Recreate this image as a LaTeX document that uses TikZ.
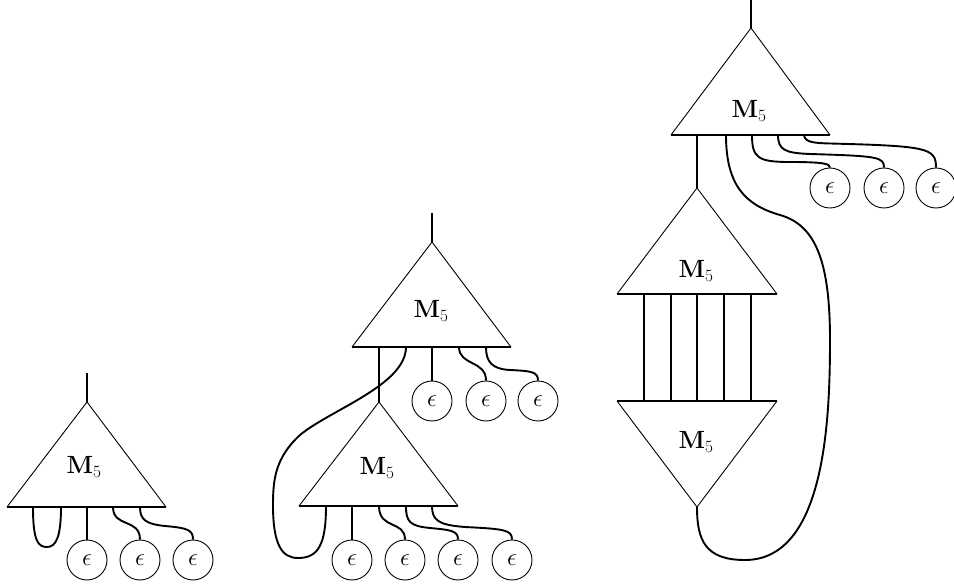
\documentclass[tikz,border=0pt]{standalone}
\begin{document}
\begin{tikzpicture}[x=1pt,y=-1pt]
\tikzset{
  tri/.style={line width=0.9pt, line join=miter},
  tribase/.style={line width=1.5pt},
  wire/.style={line width=1.9pt},
  stem/.style={line width=1.4pt},
  eps/.style={circle, draw, line width=0.9pt, minimum size=40pt, inner sep=0pt,
              font=\fontsize{23}{27}\selectfont},
  mlabel/.style={anchor=base, font=\fontsize{27}{31}\selectfont, inner sep=0pt},
}
\useasboundingbox (0,0) rectangle (954,585);

% ---------- first graph: one vertex with a self loop ----------
\coordinate (a1) at (87,402);
\coordinate (bl1) at (7,507);
\coordinate (br1) at (166,507);
\coordinate (s1) at (87,373);
\draw[tri] (bl1) -- (a1) -- (br1);
\draw[tribase] (bl1) -- (br1);
\draw[stem] (a1) -- (s1);
\node[mlabel] (m1) at (84,474) {$\mathbf{M}_5$};
\foreach \x [count=\i] in {33,61,87,113,140} { \coordinate (p1l\i) at (\x,507); }
\node[eps] (e11) at (87,560) {$\epsilon$};
\node[eps] (e12) at (140,560) {$\epsilon$};
\node[eps] (e13) at (193,560) {$\epsilon$};
\draw[wire] (p1l1) .. controls (33,541) and (38,547) .. (47,547)
                   .. controls (56,547) and (61,537) .. (p1l2);
\draw[wire] (p1l3) -- (e11.north);
\draw[wire] (p1l4) .. controls (113,528) and (140,518) .. (e12.north);
\draw[wire] (p1l5) .. controls (140,520) and (146,524) .. (165,526)
                   .. controls (188,528) and (193,530) .. (e13.north);

% ---------- second graph: two stacked vertices ----------
\coordinate (a2) at (432,242);
\coordinate (bl2) at (352,347);
\coordinate (br2) at (511,347);
\coordinate (s2) at (432,213);
\draw[tri] (bl2) -- (a2) -- (br2);
\draw[tribase] (bl2) -- (br2);
\draw[stem] (a2) -- (s2);
\node[mlabel] (m2) at (431,318) {$\mathbf{M}_5$};
\foreach \x [count=\i] in {379,406,432,459,486} { \coordinate (q1l\i) at (\x,347); }
\node[eps] (e21) at (432,401) {$\epsilon$};
\node[eps] (e22) at (486,401) {$\epsilon$};
\node[eps] (e23) at (538,401) {$\epsilon$};

\coordinate (a2b) at (379,402);
\coordinate (bl2b) at (299,506);
\coordinate (br2b) at (458,506);
\draw[tri] (bl2b) -- (a2b) -- (br2b);
\draw[tribase] (bl2b) -- (br2b);
\node[mlabel] (m2b) at (377,475) {$\mathbf{M}_5$};
\foreach \x [count=\i] in {326,352,379,406,432} { \coordinate (q2l\i) at (\x,506); }
\node[eps] (e24) at (352,560) {$\epsilon$};
\node[eps] (e25) at (405,560) {$\epsilon$};
\node[eps] (e26) at (458,560) {$\epsilon$};
\node[eps] (e27) at (512,560) {$\epsilon$};

\draw[wire] (q1l1) -- (a2b);
\draw[wire] (q1l2) .. controls (406,385) and (330,410) .. (300,435)
                   .. controls (275,458) and (273,480) .. (273,505)
                   .. controls (273,545) and (282,558) .. (298,558)
                   .. controls (318,558) and (326,545) .. (q2l1);
\draw[wire] (q1l3) -- (e21.north);
\draw[wire] (q1l4) .. controls (459,366) and (486,360) .. (e22.north);
\draw[wire] (q1l5) .. controls (486,362) and (492,369) .. (510,370)
                   .. controls (532,371) and (538,372) .. (e23.north);
\draw[wire] (q2l2) -- (e24.north);
\draw[wire] (q2l3) .. controls (379,530) and (405,520) .. (e25.north);
\draw[wire] (q2l4) .. controls (406,522) and (410,526) .. (430,528)
                   .. controls (452,530) and (458,531) .. (e26.north);
\draw[wire] (q2l5) .. controls (432,520) and (438,525) .. (465,527)
                   .. controls (505,529) and (512,530) .. (e27.north);

% ---------- third graph: three vertices, a closed block ----------
\coordinate (a3) at (751,28);
\coordinate (bl3) at (671,135);
\coordinate (br3) at (830,135);
\coordinate (s3) at (751,0);
\draw[tri] (bl3) -- (a3) -- (br3);
\draw[tribase] (bl3) -- (br3);
\draw[stem] (a3) -- (s3);
\node[mlabel] (m3) at (749,118) {$\mathbf{M}_5$};
\foreach \x [count=\i] in {697,726,752,778,804} { \coordinate (r1l\i) at (\x,135); }
\node[eps] (e31) at (830,188) {$\epsilon$};
\node[eps] (e32) at (884,188) {$\epsilon$};
\node[eps] (e33) at (936,188) {$\epsilon$};

\coordinate (a3b) at (697,188);
\coordinate (bl3b) at (617,294);
\coordinate (br3b) at (777,294);
\draw[tri] (bl3b) -- (a3b) -- (br3b);
\draw[tribase] (bl3b) -- (br3b);
\node[mlabel] (m3b) at (696,278) {$\mathbf{M}_5$};

\coordinate (tl3c) at (617,401);
\coordinate (tr3c) at (777,401);
\coordinate (a3c) at (697,507);
\draw[tri] (tl3c) -- (a3c) -- (tr3c);
\draw[tribase] (tl3c) -- (tr3c);
\node[mlabel] (m3c) at (696,449) {$\mathbf{M}_5$};

\foreach \x [count=\i] in {644,671,697,724,751} {
  \coordinate (u\i) at (\x,294);
  \coordinate (d\i) at (\x,401);
  \draw[wire] (u\i) -- (d\i);
}

\draw[wire] (r1l1) -- (a3b);
\draw[wire] (r1l2) .. controls (726,185) and (745,205) .. (780,215)
                   .. controls (815,225) and (830,260) .. (830,340)
                   .. controls (830,420) and (825,560) .. (745,560)
                   .. controls (705,560) and (697,540) .. (a3c);
\draw[wire] (r1l3) .. controls (752,158) and (758,162) .. (790,162)
                   .. controls (825,162) and (830,164) .. (e31.north);
\draw[wire] (r1l4) .. controls (778,150) and (785,153) .. (810,154)
                   .. controls (878,156) and (884,157) .. (e32.north);
\draw[wire] (r1l5) .. controls (805,142) and (812,143) .. (830,143.5)
                   .. controls (928,146) and (936,148) .. (e33.north);
\end{tikzpicture}
\end{document}
